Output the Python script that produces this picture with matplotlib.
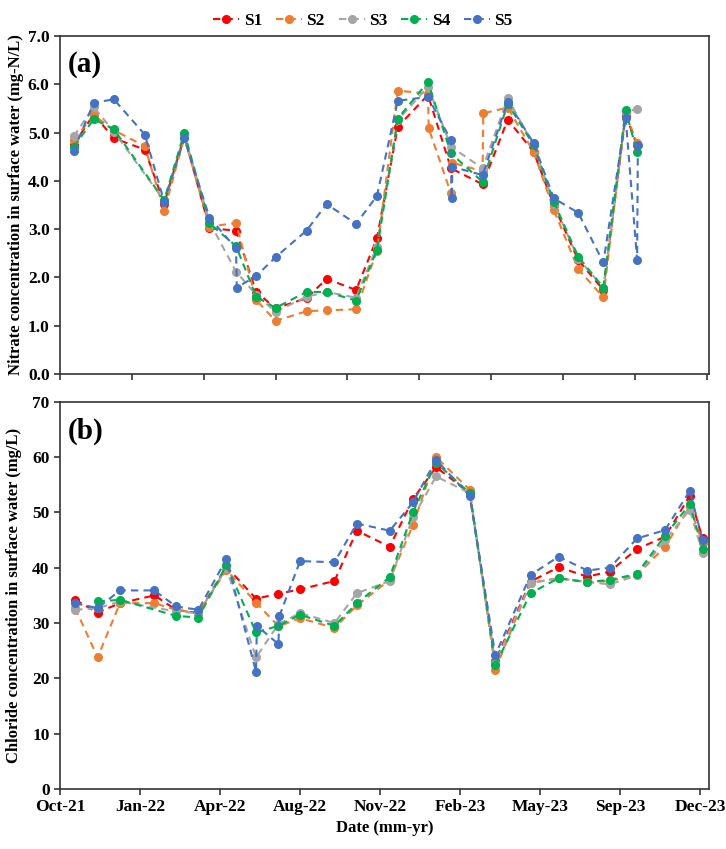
import numpy as np
import matplotlib
matplotlib.use('Agg')
import matplotlib.pyplot as plt
import matplotlib.dates as mdates
from datetime import date, timedelta

nan = np.nan

# sampling dates (a few samples were taken on consecutive days)
dates = ["2021-10-25", "2021-11-22", "2021-12-20", "2022-02-01", "2022-02-28",
         "2022-03-28", "2022-05-02", "2022-06-08", "2022-06-09", "2022-07-06",
         "2022-07-07", "2022-08-02", "2022-09-14", "2022-10-12", "2022-11-22",
         "2022-12-21", "2023-01-19", "2023-03-02", "2023-03-03", "2023-04-03",
         "2023-04-04", "2023-04-05", "2023-05-17", "2023-05-18", "2023-06-21",
         "2023-07-27", "2023-08-24", "2023-09-27", "2023-11-01", "2023-12-02",
         "2023-12-18", "2023-12-19"]

sites = ["S1", "S2", "S3", "S4", "S5"]
colors = ["#FF0000", "#ED7D31", "#A5A5A5", "#00B050", "#4472C4"]

# nitrate (mg-N/L)
nitrate_s1 = [4.75, 5.38, 4.88, 4.65, 3.53, 4.93, 3.02, 2.97, nan, 1.70, nan, 1.36,
              1.57, 1.97, 1.74, 2.81, 5.12, 5.78, nan, 4.26, nan, nan, 3.93, nan,
              5.27, 4.60, 3.50, 2.36, 1.74, 5.36, 4.74, nan]
nitrate_s2 = [4.85, 5.36, 5.05, 4.72, 3.38, 4.90, 3.05, 3.13, nan, 1.53, nan, 1.10,
              1.30, 1.32, 1.34, 2.55, 5.87, 5.81, 5.09, 3.74, 4.38, nan, 4.20, 5.40,
              5.52, 4.60, 3.40, 2.17, 1.59, 5.40, 4.78, nan]
nitrate_s3 = [4.92, 5.53, 5.02, nan, 3.59, 4.95, 3.15, 2.12, nan, 1.64, nan, 1.29,
              1.60, 1.70, 1.58, 2.64, 5.26, 5.95, nan, 4.71, nan, nan, 4.26, nan,
              5.71, 4.74, 3.53, 2.39, 1.79, 5.43, 5.49, nan]
nitrate_s4 = [4.70, 5.28, 5.07, nan, 3.60, 5.00, 3.12, 2.65, nan, 1.60, nan, 1.37,
              1.70, 1.70, 1.52, 2.57, 5.29, 6.05, nan, 4.57, nan, nan, 3.98, nan,
              5.60, 4.74, 3.57, 2.43, 1.79, 5.47, 4.59, nan]
nitrate_s5 = [4.62, 5.62, 5.69, 4.96, 3.57, 4.88, 3.24, 2.60, 1.79, 2.03, nan, 2.42,
              2.97, 3.52, 3.11, 3.69, 5.66, 5.74, nan, 4.84, 3.65, 4.29, 4.12, nan,
              5.64, 4.78, 3.64, 3.34, 2.31, 5.31, 2.36, 4.74]

# chloride (mg/L)
chloride_s1 = [34.2, 31.9, 33.6, 35.0, 32.4, 31.8, 40.2, 34.4, nan, 35.3, nan, 36.1,
               37.6, 46.7, 43.8, 52.4, 58.2, 53.5, nan, 23.2, nan, nan, 37.5, nan,
               40.1, 38.4, 39.3, 43.4, 45.6, 53.0, 45.3, nan]
chloride_s2 = [32.7, 23.8, 33.6, 33.6, 32.4, 31.8, 39.6, 33.7, nan, 29.4, nan, 30.9,
               29.1, 33.2, 37.8, 47.7, 60.0, 54.1, nan, 21.6, nan, nan, 37.3, nan,
               38.1, 37.4, 37.6, 38.7, 43.8, 51.1, 44.4, nan]
chloride_s3 = [32.4, 32.7, 33.9, nan, 32.1, 31.8, 39.9, 23.8, nan, 29.8, nan, 31.8,
               30.0, 35.4, 37.6, 49.1, 56.5, 53.5, nan, 22.8, nan, nan, 37.2, nan,
               38.1, 37.4, 37.0, 38.6, 45.0, 50.5, 42.6, nan]
chloride_s4 = [nan, 33.9, 34.2, nan, 31.3, 31.0, 40.5, 28.3, nan, 29.5, nan, 31.5,
               29.5, 33.6, 38.3, 50.0, 59.0, 53.5, nan, 22.4, nan, nan, 35.4, nan,
               38.1, 37.4, 37.8, 38.9, 45.8, 51.5, 43.4, nan]
chloride_s5 = [33.6, 32.7, 35.9, 35.9, 33.0, 32.4, 41.6, 21.2, 29.5, 26.2, 31.2, 41.2,
               41.0, 48.0, 46.7, 51.8, 59.5, 53.0, nan, 24.2, nan, nan, 38.7, nan,
               42.0, 39.5, 40.0, 45.3, 46.8, 53.9, 45.0, nan]

nitrate = [nitrate_s1, nitrate_s2, nitrate_s3, nitrate_s4, nitrate_s5]
chloride = [chloride_s1, chloride_s2, chloride_s3, chloride_s4, chloride_s5]

plt.rcParams['font.family'] = ['Liberation Serif', 'DejaVu Serif']
plt.rcParams['font.weight'] = 'bold'

x = np.array([mdates.date2num(date.fromisoformat(d)) for d in dates])
start = date(2021, 10, 6)


def draw(ax, series):
    for name, vals, c in zip(sites, series, colors):
        v = np.array(vals, dtype=float)
        m = ~np.isnan(v)
        ax.plot(x[m], v[m], color=c, linestyle=(0, (3.5, 2.5)), linewidth=1.5,
                marker='o', markersize=5.5, label=name)
    for s in ax.spines.values():
        s.set_color('#333333')
        s.set_linewidth(1.2)
    ax.tick_params(direction='out', length=4, width=1.2, labelsize=12.5,
                   color='#333333')


fig = plt.figure(figsize=(7.26, 8.49), dpi=100)
ax1 = fig.add_axes([0.0826, 0.5595, 0.894, 0.398])
ax2 = fig.add_axes([0.0826, 0.0707, 0.894, 0.456])

draw(ax1, nitrate)
draw(ax2, chloride)

# panel (a) x-axis spans a longer range than panel (b)
ticks_a = [mdates.date2num(start + timedelta(days=100 * k)) for k in range(10)]
ax1.set_xlim(ticks_a[0], mdates.date2num(start + timedelta(days=903)))
ax1.set_xticks(ticks_a)
ax1.set_xticklabels([])
ax1.set_ylim(0, 7)
ax1.set_yticks(np.arange(0, 7.01, 1.0))
ax1.yaxis.set_major_formatter(plt.FormatStrFormatter('%.1f'))
ax1.set_ylabel("Nitrate concentration in surface water (mg-N/L)",
               fontsize=12, fontweight='bold', labelpad=3)
ax1.text(0.012, 0.955, "(a)", transform=ax1.transAxes, fontsize=21,
         fontweight='bold', va='top')

ticks_b = [start + timedelta(days=100 * k) for k in range(9)]
ax2.set_xlim(mdates.date2num(start), mdates.date2num(start + timedelta(days=811)))
ax2.set_xticks([mdates.date2num(t) for t in ticks_b])
ax2.set_xticklabels([t.strftime('%b-%y') for t in ticks_b])
ax2.set_ylim(0, 70)
ax2.set_yticks(np.arange(0, 71, 10))
ax2.set_ylabel("Chloride concentration in surface water (mg/L)",
               fontsize=12, fontweight='bold', labelpad=7)
ax2.set_xlabel("Date (mm-yr)", fontsize=12, fontweight='bold', labelpad=3)
ax2.text(0.012, 0.96, "(b)", transform=ax2.transAxes, fontsize=21,
         fontweight='bold', va='top')

h, l = ax1.get_legend_handles_labels()
fig.legend(h, l, loc='upper center', bbox_to_anchor=(0.5, 1.003), ncol=5,
           frameon=False, fontsize=12.5, handlelength=1.5, handletextpad=0.25,
           columnspacing=0.8)

fig.savefig("out.png", dpi=100)
